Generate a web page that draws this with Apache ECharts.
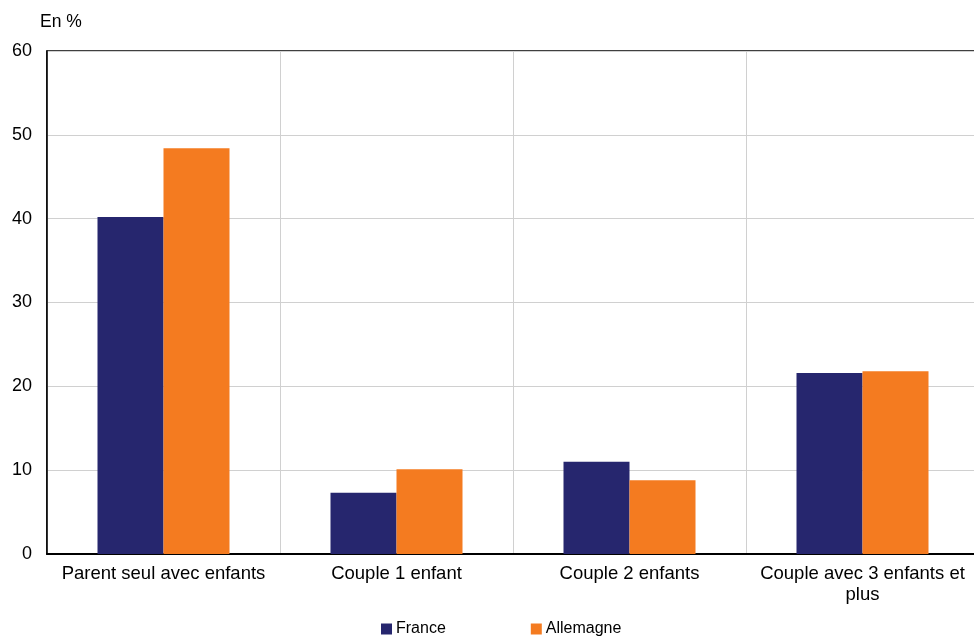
<!DOCTYPE html>
<html><head><meta charset="utf-8">
<script src="https://cdn.jsdelivr.net/npm/echarts@6/dist/echarts.min.js"></script>
<style>html,body{margin:0;padding:0;background:#fff;overflow:hidden}#c{width:980px;height:637px}</style>
</head><body><div id="c"></div>
<script>
const categories = ['Parent seul avec enfants', 'Couple 1 enfant', 'Couple 2 enfants', 'Couple avec 3 enfants et\nplus'];
const france = [40.2, 7.3, 11.0, 21.6];
const allemagne = [48.4, 10.1, 8.8, 21.8];
const yTicks = [0, 10, 20, 30, 40, 50, 60];

const chart = echarts.init(document.getElementById('c'));
const font = 'Liberation Sans, Arial, sans-serif';
chart.setOption({
  animation: false,
  textStyle: { fontFamily: font },
  graphic: [{ type: 'text', left: 40, top: 13, style: { text: 'En %', font: '17.5px ' + font, fill: '#000' } }],
  legend: {
    top: 616, left: 376, itemWidth: 11, itemHeight: 11, itemGap: 85,
    icon: 'rect',
    textStyle: { fontSize: 16, color: '#000', fontFamily: font, padding: [0, 0, 0, -1] },
    data: ['France', 'Allemagne']
  },
  grid: { left: 47, top: 51, right: 1, height: 503, show: true, borderColor: '#000', borderWidth: 1.5 },
  xAxis: {
    type: 'category', data: categories,
    axisLine: { lineStyle: { color: '#000', width: 2 } },
    axisTick: { show: false },
    splitLine: { show: true, interval: 0, lineStyle: { color: '#d0d0d0', width: 1 } },
    axisLabel: { interval: 0, fontSize: 18.5, color: '#000', margin: 9, lineHeight: 21, fontFamily: font }
  },
  yAxis: {
    type: 'value', min: yTicks[0], max: yTicks[yTicks.length - 1], interval: 10,
    axisLine: { show: true, lineStyle: { color: '#000', width: 1.5 } },
    axisTick: { show: false },
    splitLine: { lineStyle: { color: '#d0d0d0', width: 1 } },
    axisLabel: { fontSize: 18, color: '#000', margin: 15, fontFamily: font }
  },
  series: [
    { name: 'France', type: 'bar', data: france, barWidth: 66, barGap: '0%', itemStyle: { color: '#26266E' } },
    { name: 'Allemagne', type: 'bar', data: allemagne, barWidth: 66, barGap: '0%', itemStyle: { color: '#F47B20' } }
  ]
});
</script></body></html>
